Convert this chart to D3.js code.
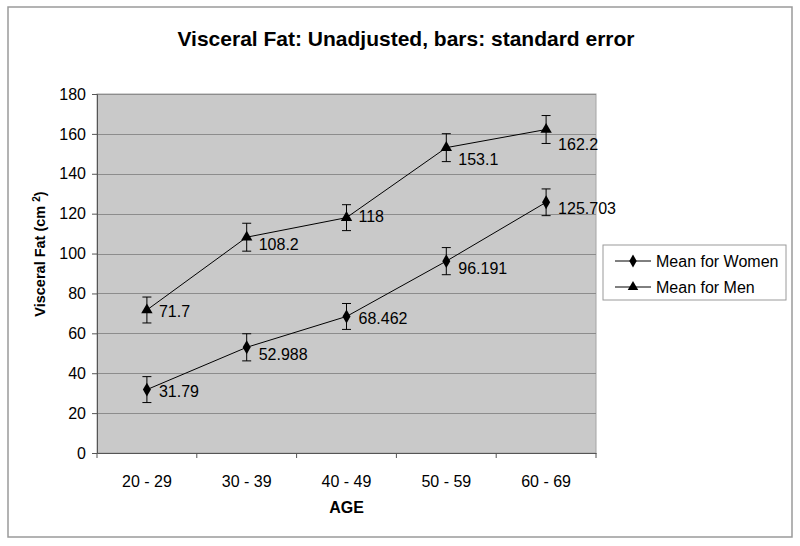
<!DOCTYPE html>
<html>
<head>
<meta charset="utf-8">
<script src="https://cdn.jsdelivr.net/npm/d3@7"></script>
<style>
  body { margin: 0; background: #fff; }
  text { font-family: "Liberation Sans", Arial, sans-serif; fill: #000; }
</style>
</head>
<body>
<svg id="chart"></svg>
<script>
// data
const ageGroups = ["20 - 29", "30 - 39", "40 - 49", "50 - 59", "60 - 69"];
const womenMean = [31.79, 52.988, 68.462, 96.191, 125.703];
const womenSE = [6.5, 6.8, 6.5, 6.8, 6.7];
const menMean = [71.7, 108.2, 118, 153.1, 162.2];
const menSE = [6.5, 7, 6.5, 7, 7];
const yTicks = [0, 20, 40, 60, 80, 100, 120, 140, 160, 180];
const womenLabels = ["31.79", "52.988", "68.462", "96.191", "125.703"];
const menLabels = ["71.7", "108.2", "118", "153.1", "162.2"];

// label nudges (px, downward) the way excel placed them
const womenLabelDy = [1.5, 7.5, 1.5, 7, 6];
const menLabelDy = [1, 7, -1.5, 12, 14.5];

const width = 800, height = 546;
const plot = {left: 97, right: 596, top: 94, bottom: 453};

const svg = d3.select("#chart")
  .attr("width", width)
  .attr("height", height);

// outer chart frame
svg.append("rect")
  .attr("x", 8).attr("y", 7)
  .attr("width", 784).attr("height", 530)
  .attr("fill", "#fff")
  .attr("stroke", "#9a9a9a")
  .attr("stroke-width", 1.5);

const x = d3.scaleBand()
  .domain(ageGroups)
  .range([plot.left, plot.right]);
const y = d3.scaleLinear()
  .domain([0, 180])
  .range([plot.bottom, plot.top]);

// plot area
svg.append("rect")
  .attr("x", plot.left).attr("y", plot.top)
  .attr("width", plot.right - plot.left)
  .attr("height", plot.bottom - plot.top)
  .attr("fill", "#c9c9c9")
  .attr("stroke", "#a4a4a4")
  .attr("stroke-width", 1);

// gridlines
svg.selectAll("line.grid")
  .data(yTicks.filter((d) => d > 0))
  .enter().append("line")
  .attr("class", "grid")
  .attr("x1", plot.left).attr("x2", plot.right)
  .attr("y1", (d) => Math.round(y(d)) + 0.5)
  .attr("y2", (d) => Math.round(y(d)) + 0.5)
  .style("stroke", "#8c8c8c")
  .style("stroke-width", 1);

// y axis
const yAxis = svg.append("g")
  .attr("transform", `translate(${plot.left},0)`)
  .call(d3.axisLeft(y).tickValues(yTicks).tickSize(5).tickPadding(6));
yAxis.select(".domain").attr("stroke", "#555");
yAxis.selectAll(".tick line").attr("stroke", "#555");
yAxis.selectAll(".tick text")
  .attr("font-size", "16px")
  .attr("font-family", "Liberation Sans, Arial, sans-serif")
  .attr("fill", "#000");

// x axis, ticks sit on the band edges
const xAxis = svg.append("g")
  .attr("transform", `translate(0,${plot.bottom})`)
  .call(d3.axisBottom(x).tickSize(0).tickPadding(23));
xAxis.select(".domain").attr("stroke", "#555");
xAxis.selectAll(".tick text")
  .attr("font-size", "16px")
  .attr("font-family", "Liberation Sans, Arial, sans-serif")
  .attr("fill", "#000");
const edges = ageGroups.map((d) => x(d)).concat([x(ageGroups[4]) + x.bandwidth()]);
xAxis.selectAll("line.edge")
  .data(edges)
  .enter().append("line")
  .attr("class", "edge")
  .attr("x1", (d) => d).attr("x2", (d) => d)
  .attr("y1", 0).attr("y2", 5)
  .attr("stroke", "#555");

// titles
svg.append("text")
  .attr("x", 406).attr("y", 46)
  .attr("text-anchor", "middle")
  .style("font-size", "21px")
  .style("font-weight", "bold")
  .text("Visceral Fat: Unadjusted, bars: standard error");

svg.append("text")
  .attr("x", (plot.left + plot.right) / 2).attr("y", 513)
  .attr("text-anchor", "middle")
  .style("font-size", "16px")
  .style("font-weight", "bold")
  .text("AGE");

const yTitle = svg.append("text")
  .attr("transform", "translate(45,254) rotate(-90)")
  .attr("text-anchor", "middle")
  .style("font-size", "14.5px")
  .style("font-weight", "bold");
yTitle.append("tspan").text("Visceral Fat (cm ");
yTitle.append("tspan").attr("dy", -5).style("font-size", "10px").text("2");
yTitle.append("tspan").attr("dy", 5).text(")");

const series = [
  {name: "Mean for Women", mean: womenMean, se: womenSE, labels: womenLabels, dy: womenLabelDy, shape: d3.symbolDiamond},
  {name: "Mean for Men", mean: menMean, se: menSE, labels: menLabels, dy: menLabelDy, shape: d3.symbolTriangle}
];

const cx = (i) => x(ageGroups[i]) + x.bandwidth() / 2;
const line = d3.line()
  .x((d, i) => cx(i))
  .y((d) => y(d));

series.forEach(function(s) {
  const g = svg.append("g");
  g.append("path")
    .datum(s.mean)
    .attr("d", line)
    .attr("fill", "none")
    .attr("stroke", "#000")
    .attr("stroke-width", 1);

  // error bars
  const eb = g.selectAll("g.err")
    .data(s.mean)
    .enter().append("g")
    .attr("class", "err")
    .attr("stroke", "#000")
    .attr("stroke-width", 1);
  eb.append("line")
    .attr("x1", (d, i) => cx(i)).attr("x2", (d, i) => cx(i))
    .attr("y1", (d, i) => y(d + s.se[i])).attr("y2", (d, i) => y(d - s.se[i]));
  eb.append("line")
    .attr("x1", (d, i) => cx(i) - 4.5).attr("x2", (d, i) => cx(i) + 4.5)
    .attr("y1", (d, i) => y(d + s.se[i])).attr("y2", (d, i) => y(d + s.se[i]));
  eb.append("line")
    .attr("x1", (d, i) => cx(i) - 4.5).attr("x2", (d, i) => cx(i) + 4.5)
    .attr("y1", (d, i) => y(d - s.se[i])).attr("y2", (d, i) => y(d - s.se[i]));

  g.selectAll("path.marker")
    .data(s.mean)
    .enter().append("path")
    .attr("class", "marker")
    .attr("d", d3.symbol().type(s.shape).size(56))
    .attr("transform", (d, i) => `translate(${cx(i)},${y(d)})`)
    .attr("fill", "#000");

  g.selectAll("text.value")
    .data(s.mean)
    .enter().append("text")
    .attr("class", "value")
    .attr("x", (d, i) => cx(i) + 12)
    .attr("y", (d, i) => y(d) + s.dy[i])
    .attr("dy", "0.35em")
    .style("font-size", "16px")
    .text((d, i) => s.labels[i]);
});

// legend
const legend = svg.append("g").attr("transform", "translate(603,245)");
legend.append("rect")
  .attr("width", 183).attr("height", 55)
  .attr("fill", "#fff")
  .attr("stroke", "#9a9a9a");
const item = legend.selectAll("g.item")
  .data(series)
  .enter().append("g")
  .attr("class", "item")
  .attr("transform", (d, i) => `translate(0,${16 + i * 26})`);
item.append("line")
  .attr("x1", 12).attr("x2", 48)
  .attr("stroke", "#000");
item.append("path")
  .attr("d", (d) => d3.symbol().type(d.shape).size(48)())
  .attr("transform", "translate(30,0)")
  .attr("fill", "#000");
item.append("text")
  .attr("x", 53)
  .attr("dy", "0.35em")
  .style("font-size", "16px")
  .text((d) => d.name);
</script>
</body>
</html>
